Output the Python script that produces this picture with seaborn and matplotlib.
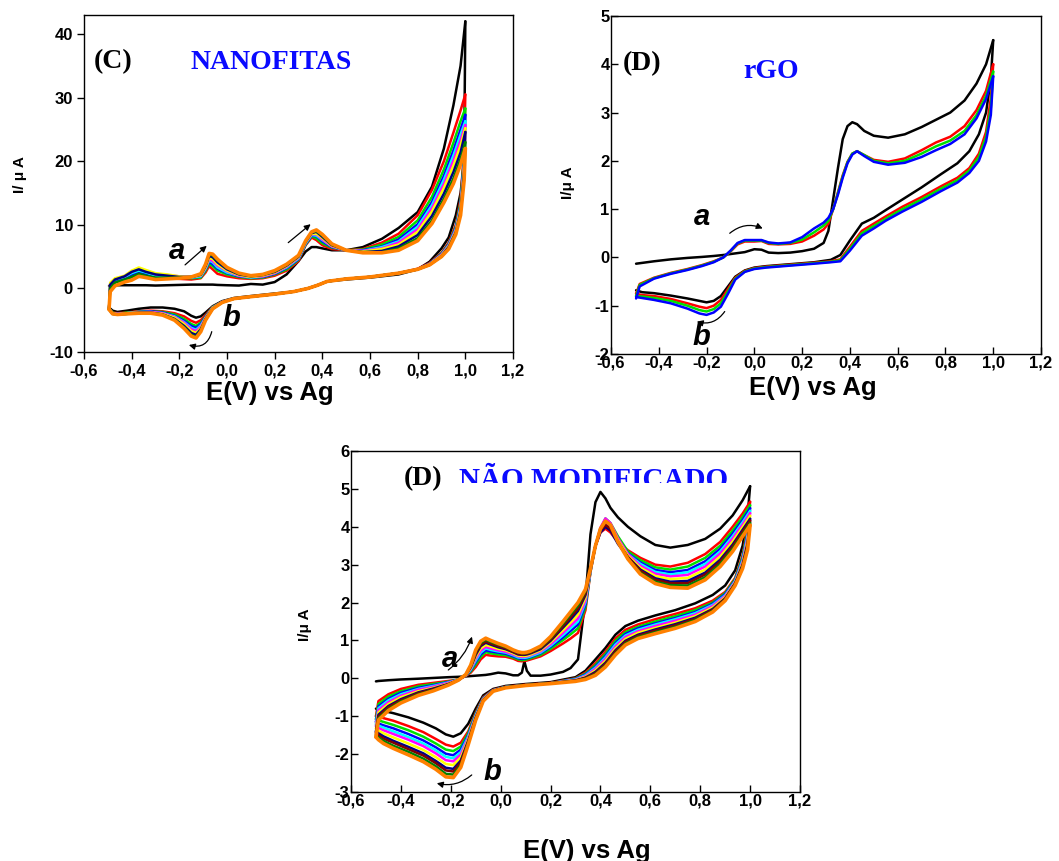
import matplotlib
matplotlib.use("Agg")
import matplotlib.pyplot as plt
import pandas as pd
import seaborn as sns

# ---------------- shared axis values ----------------
x_ticks = [-0.6, -0.4, -0.2, 0.0, 0.2, 0.4, 0.6, 0.8, 1.0, 1.2]
x_tick_labels = ["-0,6", "-0,4", "-0,2", "0,0", "0,2", "0,4", "0,6", "0,8", "1,0", "1,2"]
yticks_C = [-10, 0, 10, 20, 30, 40]
yticks_D = [-2, -1, 0, 1, 2, 3, 4, 5]
yticks_N = [-3, -2, -1, 0, 1, 2, 3, 4, 5, 6]

# ---------------- panel C : NANOFITAS ----------------
E_an_C = [-0.495, -0.49, -0.47, -0.43, -0.40, -0.37, -0.34, -0.30, -0.25, -0.20, -0.15, -0.11, -0.09, -0.075,
          -0.06, -0.04, 0.00, 0.05, 0.10, 0.15, 0.20, 0.25, 0.30, 0.33, 0.355, 0.375, 0.40, 0.44, 0.50, 0.57,
          0.65, 0.72, 0.80, 0.86, 0.91, 0.95, 0.98, 1.00]
E_ca_C = [1.00, 0.995, 0.98, 0.96, 0.93, 0.90, 0.85, 0.80, 0.72, 0.60, 0.50, 0.42, 0.38, 0.34, 0.28, 0.20, 0.10,
          0.03, -0.02, -0.06, -0.09, -0.11, -0.13, -0.15, -0.18, -0.22, -0.27, -0.32, -0.37, -0.42, -0.46, -0.48, -0.495]

C_black_an = [0.4, 0.45, 0.5, 0.5, 0.5, 0.5, 0.5, 0.45, 0.5, 0.55, 0.6, 0.6, 0.6, 0.6, 0.6, 0.55, 0.5, 0.45, 0.7, 0.6,
              1.0, 2.2, 4.3, 5.8, 6.5, 6.5, 6.3, 6.0, 6.0, 6.5, 7.8, 9.5, 12.0, 16.0, 22.0, 28.8, 35.0, 42.0]
C_red_an = [-3.2, 0.3, 1.0, 1.4, 1.8, 2.2, 1.9, 1.6, 1.6, 1.5, 1.4, 1.6, 2.5, 3.5, 3.0, 2.3, 1.9, 1.6, 1.5, 1.6,
            2.0, 2.8, 4.3, 6.8, 8.0, 7.6, 6.8, 6.2, 6.0, 6.2, 7.2, 8.6, 11.5, 15.5, 20.0, 24.5, 28.0, 30.5]
C_green_an = [-3.2, 0.5, 1.2, 1.6, 2.0, 2.4, 2.1, 1.8, 1.8, 1.7, 1.6, 1.7, 2.8, 3.9, 3.5, 2.8, 2.2, 1.8, 1.6, 1.7,
              2.2, 3.0, 4.5, 6.9, 8.2, 7.9, 7.1, 6.4, 6.0, 6.1, 6.9, 8.1, 10.7, 14.4, 18.7, 22.9, 26.3, 28.3]
C_blue_an = [-3.2, 0.6, 1.3, 1.7, 2.2, 2.6, 2.3, 1.9, 1.9, 1.8, 1.7, 1.85, 3.0, 4.2, 3.8, 3.1, 2.4, 1.9, 1.7, 1.8,
             2.3, 3.2, 4.6, 7.0, 8.3, 8.2, 7.4, 6.5, 6.0, 6.0, 6.6, 7.7, 10.1, 13.6, 17.7, 21.7, 25.0, 27.3]
C_cyan_an = [-3.2, 0.7, 1.4, 1.8, 2.4, 2.8, 2.5, 2.0, 2.0, 1.8, 1.7, 1.9, 3.1, 4.4, 4.1, 3.3, 2.5, 2.0, 1.7, 1.9,
             2.4, 3.3, 4.7, 7.1, 8.4, 8.3, 7.6, 6.6, 6.0, 5.9, 6.5, 7.4, 9.7, 13.1, 17.1, 20.9, 24.2, 26.3]
C_magenta_an = [-3.3, 0.8, 1.5, 1.9, 2.6, 3.1, 2.7, 2.2, 2.1, 1.9, 1.8, 2.0, 3.2, 4.6, 4.3, 3.6, 2.7, 2.0, 1.8, 1.9,
                2.4, 3.4, 4.8, 7.2, 8.5, 8.5, 7.7, 6.6, 6.0, 5.9, 6.3, 7.2, 9.3, 12.6, 16.4, 20.1, 23.3, 25.7]
C_yellow_an = [-3.3, 0.9, 1.6, 2.0, 2.8, 3.3, 2.9, 2.4, 2.2, 1.9, 1.8, 2.05, 3.3, 4.8, 4.6, 3.8, 2.8, 2.1, 1.8, 2.0,
               2.5, 3.5, 4.9, 7.25, 8.6, 8.6, 7.9, 6.7, 6.0, 5.8, 6.2, 6.9, 8.9, 12.1, 15.8, 19.3, 22.5, 25.2]
C_navy_an = [-3.3, 0.6, 1.4, 1.9, 2.6, 3.0, 2.6, 2.2, 2.0, 1.8, 1.8, 2.15, 3.5, 5.1, 4.9, 4.1, 3.0, 2.2, 1.9, 2.1,
             2.6, 3.6, 5.0, 7.35, 8.7, 8.9, 8.1, 6.8, 6.0, 5.7, 5.9, 6.6, 8.4, 11.4, 14.9, 18.3, 21.4, 24.6]
C_dkgreen_an = [-3.3, 0.0, 0.9, 1.4, 1.8, 2.3, 2.0, 1.7, 1.7, 1.7, 1.8, 2.2, 3.7, 5.3, 5.2, 4.4, 3.2, 2.3, 1.95, 2.15,
                2.7, 3.7, 5.1, 7.4, 8.8, 9.0, 8.3, 6.9, 6.0, 5.7, 5.7, 6.3, 7.9, 10.7, 14.1, 17.3, 20.4, 23.0]
C_orange_an = [-3.3, -0.5, 0.4, 1.0, 1.3, 1.9, 1.7, 1.4, 1.5, 1.6, 1.8, 2.3, 3.8, 5.5, 5.4, 4.6, 3.3, 2.4, 2.0, 2.2,
               2.8, 3.8, 5.2, 7.5, 8.9, 9.2, 8.5, 7.0, 6.0, 5.6, 5.6, 6.0, 7.5, 10.2, 13.5, 16.5, 19.5, 22.0]

C_black_ca = [42.0, 20.0, 15.0, 11.5, 8.0, 6.3, 4.2, 3.0, 2.2, 1.7, 1.4, 1.1, 0.5, 0.0, -0.5, -0.8, -1.2, -1.5, -2.0,
              -2.8, -3.8, -4.4, -4.6, -4.3, -3.6, -3.2, -3.0, -3.0, -3.2, -3.5, -3.7, -3.5, -3.0]
C_red_ca = [30.5, 22.0, 14.0, 10.0, 7.2, 5.6, 4.0, 3.1, 2.4, 1.8, 1.5, 1.1, 0.5, 0.0, -0.5, -0.9, -1.3, -1.6, -2.1,
            -2.9, -4.2, -5.0, -5.4, -5.1, -4.4, -3.9, -3.6, -3.5, -3.6, -3.8, -3.9, -3.8, -3.2]
C_green_ca = [28.3, 21.0, 13.5, 9.7, 7.0, 5.5, 3.9, 3.0, 2.4, 1.8, 1.5, 1.1, 0.5, 0.0, -0.5, -0.9, -1.3, -1.6, -2.1,
              -2.95, -4.4, -5.4, -5.9, -5.6, -4.8, -4.1, -3.7, -3.6, -3.7, -3.8, -4.0, -3.8, -3.2]
C_blue_ca = [27.3, 20.3, 13.1, 9.5, 6.9, 5.4, 3.9, 3.0, 2.4, 1.8, 1.5, 1.1, 0.5, 0.0, -0.5, -0.9, -1.3, -1.6, -2.1,
             -3.0, -4.5, -5.6, -6.2, -5.9, -5.1, -4.3, -3.8, -3.6, -3.7, -3.9, -4.0, -3.9, -3.2]
C_cyan_ca = [26.3, 19.7, 12.9, 9.3, 6.8, 5.3, 3.8, 3.0, 2.4, 1.8, 1.5, 1.1, 0.5, 0.0, -0.5, -0.9, -1.3, -1.6, -2.15,
             -3.0, -4.6, -5.8, -6.5, -6.2, -5.3, -4.4, -3.9, -3.7, -3.7, -3.9, -4.0, -3.9, -3.2]
C_magenta_ca = [25.7, 19.3, 12.6, 9.2, 6.7, 5.3, 3.8, 3.0, 2.4, 1.8, 1.5, 1.1, 0.5, 0.0, -0.5, -0.9, -1.3, -1.6, -2.15,
                -3.1, -4.6, -6.0, -6.7, -6.4, -5.4, -4.5, -3.9, -3.7, -3.8, -3.9, -4.0, -3.9, -3.3]
C_yellow_ca = [25.2, 19.0, 12.4, 9.0, 6.6, 5.2, 3.8, 3.0, 2.4, 1.8, 1.5, 1.1, 0.5, 0.0, -0.5, -0.9, -1.3, -1.6, -2.2,
               -3.1, -4.7, -6.2, -7.0, -6.7, -5.6, -4.6, -4.0, -3.8, -3.8, -3.9, -4.1, -3.9, -3.3]
C_navy_ca = [24.6, 18.5, 12.1, 8.8, 6.5, 5.1, 3.7, 3.0, 2.4, 1.8, 1.5, 1.1, 0.5, 0.0, -0.5, -0.9, -1.3, -1.6, -2.2,
             -3.15, -4.8, -6.4, -7.3, -7.0, -5.9, -4.8, -4.1, -3.8, -3.8, -4.0, -4.1, -4.0, -3.3]
C_dkgreen_ca = [23.0, 17.5, 11.8, 8.7, 6.3, 5.0, 3.7, 3.0, 2.4, 1.8, 1.5, 1.1, 0.5, 0.0, -0.5, -0.9, -1.3, -1.6, -2.2,
                -3.2, -4.9, -6.6, -7.6, -7.3, -6.1, -4.9, -4.1, -3.9, -3.9, -4.0, -4.1, -4.0, -3.3]
C_orange_ca = [22.0, 17.0, 11.5, 8.5, 6.2, 5.0, 3.7, 3.0, 2.4, 1.8, 1.5, 1.1, 0.5, 0.0, -0.5, -0.9, -1.3, -1.6, -2.2,
               -3.2, -5.0, -6.8, -7.8, -7.5, -6.3, -5.0, -4.2, -3.9, -3.9, -4.0, -4.1, -4.0, -3.3]

# ---------------- panel D : rGO ----------------
E_an_D = [-0.495, -0.48, -0.42, -0.35, -0.28, -0.22, -0.17, -0.13, -0.10, -0.07, -0.04, 0.00, 0.03, 0.06, 0.10,
          0.15, 0.20, 0.25, 0.29, 0.31, 0.33, 0.35, 0.37, 0.39, 0.41, 0.43, 0.46, 0.50, 0.56, 0.63, 0.70, 0.76,
          0.82, 0.88, 0.93, 0.97, 1.00]
E_ca_D = [1.00, 0.99, 0.97, 0.94, 0.90, 0.85, 0.78, 0.70, 0.62, 0.55, 0.50, 0.45, 0.40, 0.36, 0.32, 0.25, 0.15,
          0.05, 0.00, -0.04, -0.08, -0.11, -0.14, -0.17, -0.20, -0.23, -0.28, -0.35, -0.42, -0.47, -0.495]

D_black_an = [-0.13, -0.12, -0.08, -0.04, -0.01, 0.01, 0.03, 0.05, 0.07, 0.09, 0.11, 0.17, 0.16, 0.10, 0.09, 0.10,
              0.13, 0.18, 0.30, 0.55, 1.2, 1.85, 2.45, 2.72, 2.8, 2.76, 2.62, 2.52, 2.48, 2.55, 2.7, 2.85, 3.0,
              3.25, 3.6, 4.0, 4.5]
D_red_an = [-0.75, -0.55, -0.42, -0.32, -0.24, -0.16, -0.08, 0.0, 0.12, 0.27, 0.33, 0.33, 0.34, 0.28, 0.27, 0.28,
            0.33, 0.45, 0.58, 0.7, 1.0, 1.35, 1.7, 1.98, 2.15, 2.2, 2.12, 2.02, 1.98, 2.05, 2.22, 2.38, 2.5, 2.72,
            3.05, 3.45, 4.0]
D_green_an = [-0.8, -0.57, -0.43, -0.33, -0.25, -0.17, -0.09, 0.0, 0.13, 0.29, 0.35, 0.35, 0.35, 0.3, 0.28, 0.3,
              0.37, 0.52, 0.66, 0.76, 1.0, 1.33, 1.68, 1.97, 2.15, 2.2, 2.12, 2.0, 1.95, 2.0, 2.15, 2.3, 2.42, 2.62,
              2.95, 3.35, 3.85]
D_blue_an = [-0.85, -0.6, -0.44, -0.34, -0.26, -0.18, -0.1, 0.0, 0.14, 0.3, 0.36, 0.36, 0.36, 0.31, 0.29, 0.31,
             0.42, 0.6, 0.72, 0.82, 1.0, 1.3, 1.65, 1.95, 2.13, 2.2, 2.1, 1.98, 1.92, 1.96, 2.08, 2.22, 2.35, 2.55,
             2.88, 3.28, 3.75]

D_black_ca = [4.5, 3.7, 3.0, 2.55, 2.2, 1.95, 1.72, 1.45, 1.2, 0.98, 0.82, 0.7, 0.35, 0.05, -0.05, -0.1, -0.14,
              -0.18, -0.21, -0.27, -0.4, -0.6, -0.8, -0.9, -0.93, -0.9, -0.85, -0.79, -0.74, -0.72, -0.68]
D_red_ca = [4.0, 3.3, 2.6, 2.15, 1.85, 1.65, 1.47, 1.25, 1.05, 0.85, 0.7, 0.55, 0.22, -0.04, -0.08, -0.11, -0.15,
            -0.19, -0.22, -0.28, -0.42, -0.65, -0.88, -1.0, -1.05, -1.02, -0.95, -0.86, -0.8, -0.78, -0.75]
D_green_ca = [3.85, 3.1, 2.5, 2.08, 1.8, 1.6, 1.42, 1.2, 1.0, 0.8, 0.65, 0.5, 0.18, -0.06, -0.09, -0.12, -0.16,
              -0.2, -0.23, -0.29, -0.44, -0.7, -0.95, -1.07, -1.12, -1.09, -1.0, -0.9, -0.84, -0.81, -0.8]
D_blue_ca = [3.75, 2.95, 2.4, 2.0, 1.75, 1.55, 1.37, 1.15, 0.95, 0.76, 0.6, 0.45, 0.14, -0.08, -0.1, -0.13, -0.17,
             -0.21, -0.24, -0.3, -0.46, -0.75, -1.02, -1.14, -1.19, -1.16, -1.06, -0.95, -0.88, -0.84, -0.82]

# ---------------- panel N : NÃO MODIFICADO ----------------
E_an_N = [-0.50, -0.49, -0.45, -0.40, -0.33, -0.27, -0.21, -0.17, -0.14, -0.12, -0.10, -0.08, -0.06, -0.04, -0.01,
          0.02, 0.05, 0.07, 0.085, 0.095, 0.105, 0.12, 0.16, 0.20, 0.25, 0.28, 0.31, 0.34, 0.36, 0.38, 0.40, 0.42,
          0.44, 0.47, 0.51, 0.56, 0.62, 0.68, 0.75, 0.82, 0.88, 0.93, 0.97, 1.00]
E_ca_N = [1.00, 0.99, 0.97, 0.94, 0.90, 0.85, 0.78, 0.70, 0.62, 0.55, 0.50, 0.46, 0.42, 0.38, 0.34, 0.30, 0.20,
          0.10, 0.02, -0.03, -0.07, -0.10, -0.13, -0.16, -0.19, -0.22, -0.26, -0.31, -0.37, -0.43, -0.47, -0.49, -0.50]

N_black_an = [-0.08, -0.07, -0.05, -0.03, -0.01, 0.01, 0.03, 0.04, 0.05, 0.06, 0.07, 0.08, 0.09, 0.11, 0.15, 0.13,
              0.08, 0.08, 0.15, 0.45, 0.2, 0.07, 0.07, 0.1, 0.17, 0.27, 0.5, 2.1, 3.8, 4.65, 4.92, 4.75, 4.5, 4.25,
              4.0, 3.75, 3.52, 3.45, 3.52, 3.68, 3.95, 4.3, 4.7, 5.07]
N_red_an = [-1.0, -0.6, -0.42, -0.28, -0.17, -0.12, -0.07, -0.03, 0.06, 0.15, 0.3, 0.5, 0.62, 0.6, 0.58, 0.57, 0.52,
            0.46, 0.45, 0.46, 0.47, 0.5, 0.58, 0.72, 0.92, 1.05, 1.2, 1.8, 2.8, 3.5, 3.85, 3.95, 3.85, 3.6, 3.38, 3.18,
            3.0, 2.95, 3.05, 3.28, 3.6, 4.0, 4.35, 4.66]
N_green_an = [-1.08, -0.68, -0.48, -0.34, -0.21, -0.15, -0.09, -0.03, 0.07, 0.18, 0.37, 0.57, 0.69, 0.66, 0.63, 0.61,
              0.55, 0.5, 0.48, 0.49, 0.5, 0.53, 0.62, 0.78, 1.01, 1.16, 1.32, 1.88, 2.82, 3.5, 3.95, 4.22, 4.1, 3.75,
              3.35, 3.12, 2.93, 2.87, 2.95, 3.18, 3.5, 3.9, 4.26, 4.57]
N_blue_an = [-1.15, -0.74, -0.54, -0.38, -0.25, -0.18, -0.1, -0.04, 0.07, 0.21, 0.43, 0.63, 0.74, 0.71, 0.68, 0.65,
             0.58, 0.53, 0.51, 0.52, 0.53, 0.56, 0.66, 0.83, 1.08, 1.25, 1.42, 1.95, 2.83, 3.5, 3.9, 4.1, 4.0, 3.65,
             3.3, 3.06, 2.86, 2.8, 2.86, 3.09, 3.42, 3.82, 4.18, 4.49]
N_cyan_an = [-1.21, -0.79, -0.58, -0.42, -0.28, -0.2, -0.11, -0.04, 0.08, 0.23, 0.47, 0.68, 0.79, 0.75, 0.71, 0.68,
             0.61, 0.55, 0.54, 0.54, 0.55, 0.58, 0.68, 0.86, 1.14, 1.32, 1.5, 2.01, 2.84, 3.5, 3.95, 4.15, 4.05, 3.65,
             3.28, 3.02, 2.81, 2.74, 2.8, 3.02, 3.35, 3.75, 4.12, 4.42]
N_magenta_an = [-1.26, -0.84, -0.63, -0.46, -0.3, -0.22, -0.12, -0.04, 0.08, 0.25, 0.52, 0.73, 0.83, 0.79, 0.74, 0.7,
                0.63, 0.58, 0.56, 0.57, 0.58, 0.61, 0.71, 0.9, 1.2, 1.39, 1.58, 2.06, 2.85, 3.5, 3.98, 4.22, 4.1, 3.7,
                3.28, 2.97, 2.76, 2.69, 2.73, 2.95, 3.29, 3.69, 4.06, 4.36]
N_yellow_an = [-1.33, -0.9, -0.68, -0.5, -0.34, -0.25, -0.14, -0.04, 0.08, 0.27, 0.57, 0.79, 0.88, 0.84, 0.78, 0.74,
               0.66, 0.6, 0.59, 0.59, 0.6, 0.63, 0.74, 0.95, 1.27, 1.47, 1.68, 2.13, 2.86, 3.5, 3.95, 4.15, 4.05, 3.65,
               3.24, 2.92, 2.7, 2.62, 2.65, 2.87, 3.21, 3.61, 3.99, 4.29]
N_navy_an = [-1.4, -0.96, -0.73, -0.55, -0.37, -0.27, -0.15, -0.05, 0.09, 0.29, 0.62, 0.85, 0.94, 0.89, 0.82, 0.77,
             0.69, 0.63, 0.62, 0.62, 0.63, 0.66, 0.77, 0.99, 1.34, 1.55, 1.78, 2.2, 2.87, 3.5, 3.85, 4.0, 3.9, 3.55,
             3.2, 2.87, 2.64, 2.55, 2.57, 2.79, 3.13, 3.53, 3.92, 4.21]
N_darkred_an = [-1.44, -1.0, -0.76, -0.58, -0.39, -0.29, -0.16, -0.05, 0.09, 0.31, 0.66, 0.88, 0.97, 0.92, 0.85, 0.79,
                0.7, 0.65, 0.63, 0.64, 0.65, 0.68, 0.8, 1.02, 1.38, 1.61, 1.84, 2.24, 2.88, 3.5, 3.9, 4.05, 3.95, 3.6,
                3.2, 2.84, 2.6, 2.51, 2.51, 2.74, 3.08, 3.48, 3.87, 4.16]
N_dkgreen_an = [-1.5, -1.05, -0.81, -0.61, -0.42, -0.31, -0.17, -0.05, 0.1, 0.33, 0.7, 0.93, 1.02, 0.96, 0.89, 0.82,
                0.73, 0.68, 0.66, 0.66, 0.67, 0.7, 0.82, 1.06, 1.44, 1.68, 1.92, 2.3, 2.89, 3.5, 3.95, 4.15, 4.05, 3.6,
                3.17, 2.79, 2.55, 2.46, 2.45, 2.67, 3.02, 3.42, 3.81, 4.1]
N_orange_an = [-1.55, -1.1, -0.85, -0.65, -0.45, -0.33, -0.18, -0.05, 0.1, 0.35, 0.75, 0.98, 1.06, 1.0, 0.92, 0.85,
               0.75, 0.7, 0.68, 0.68, 0.69, 0.72, 0.85, 1.1, 1.5, 1.75, 2.0, 2.35, 2.9, 3.5, 3.95, 4.15, 4.05, 3.6,
               3.15, 2.75, 2.5, 2.4, 2.38, 2.6, 2.95, 3.35, 3.75, 4.04]

N_black_ca = [5.07, 4.3, 3.5, 2.85, 2.45, 2.2, 1.98, 1.8, 1.66, 1.52, 1.38, 1.15, 0.8, 0.5, 0.2, 0.03, -0.1, -0.15,
              -0.2, -0.28, -0.45, -0.8, -1.2, -1.45, -1.54, -1.48, -1.32, -1.17, -1.03, -0.92, -0.86, -0.84, -0.8]
N_red_ca = [4.66, 4.0, 3.25, 2.65, 2.28, 2.05, 1.85, 1.7, 1.56, 1.42, 1.28, 1.05, 0.7, 0.4, 0.15, 0.0, -0.12, -0.17,
            -0.22, -0.3, -0.5, -0.9, -1.4, -1.7, -1.8, -1.75, -1.6, -1.42, -1.26, -1.12, -1.05, -1.02, -1.0]
N_green_ca = [4.57, 3.91, 3.2, 2.62, 2.25, 2.0, 1.8, 1.64, 1.5, 1.36, 1.22, 0.99, 0.64, 0.35, 0.12, -0.01, -0.13,
              -0.18, -0.23, -0.31, -0.52, -0.93, -1.45, -1.8, -1.92, -1.88, -1.72, -1.54, -1.37, -1.23, -1.15, -1.11,
              -1.08]
N_blue_ca = [4.49, 3.83, 3.15, 2.59, 2.22, 1.97, 1.75, 1.59, 1.45, 1.32, 1.17, 0.93, 0.59, 0.31, 0.1, -0.02, -0.13,
             -0.18, -0.23, -0.31, -0.53, -0.96, -1.5, -1.88, -2.03, -1.99, -1.82, -1.64, -1.47, -1.32, -1.24, -1.19,
             -1.15]
N_cyan_ca = [4.42, 3.77, 3.12, 2.57, 2.19, 1.94, 1.72, 1.56, 1.42, 1.28, 1.13, 0.89, 0.55, 0.28, 0.08, -0.03, -0.13,
             -0.18, -0.23, -0.32, -0.54, -0.98, -1.53, -1.95, -2.11, -2.07, -1.9, -1.72, -1.55, -1.4, -1.3, -1.25, -1.21]
N_magenta_ca = [4.36, 3.71, 3.08, 2.55, 2.17, 1.91, 1.68, 1.52, 1.38, 1.24, 1.09, 0.84, 0.51, 0.25, 0.06, -0.04,
                -0.13, -0.18, -0.24, -0.32, -0.55, -1.0, -1.57, -2.01, -2.19, -2.16, -1.98, -1.79, -1.62, -1.47, -1.37,
                -1.31, -1.26]
N_yellow_ca = [4.29, 3.64, 3.04, 2.53, 2.14, 1.87, 1.64, 1.47, 1.33, 1.2, 1.04, 0.79, 0.46, 0.21, 0.04, -0.05, -0.13,
               -0.18, -0.24, -0.32, -0.56, -1.02, -1.61, -2.09, -2.29, -2.26, -2.08, -1.89, -1.72, -1.56, -1.45, -1.38,
               -1.33]
N_navy_ca = [4.21, 3.57, 3.0, 2.51, 2.11, 1.83, 1.6, 1.43, 1.29, 1.15, 0.99, 0.74, 0.41, 0.17, 0.02, -0.06, -0.13,
             -0.18, -0.24, -0.33, -0.57, -1.04, -1.65, -2.17, -2.39, -2.36, -2.18, -1.98, -1.81, -1.65, -1.53, -1.45,
             -1.4]
N_darkred_ca = [4.16, 3.52, 2.97, 2.49, 2.1, 1.81, 1.57, 1.4, 1.26, 1.12, 0.96, 0.71, 0.38, 0.14, 0.01, -0.06, -0.13,
                -0.18, -0.24, -0.33, -0.58, -1.06, -1.68, -2.22, -2.46, -2.43, -2.24, -2.04, -1.87, -1.7, -1.59, -1.5,
                -1.44]
N_dkgreen_ca = [4.1, 3.46, 2.94, 2.47, 2.07, 1.78, 1.54, 1.36, 1.22, 1.09, 0.92, 0.66, 0.34, 0.11, -0.01, -0.07,
                -0.13, -0.18, -0.24, -0.34, -0.59, -1.08, -1.72, -2.29, -2.54, -2.52, -2.32, -2.12, -1.94, -1.78, -1.65,
                -1.56, -1.5]
N_orange_ca = [4.04, 3.4, 2.9, 2.45, 2.05, 1.75, 1.5, 1.32, 1.18, 1.05, 0.88, 0.62, 0.3, 0.08, -0.03, -0.08, -0.14,
               -0.19, -0.25, -0.34, -0.6, -1.1, -1.75, -2.35, -2.62, -2.6, -2.4, -2.2, -2.02, -1.85, -1.72, -1.62, -1.55]

# ---------------- colours ----------------
BLACK, RED, GREEN, BLUE = "#000000", "#ff0000", "#00e000", "#0000ff"
CYAN, MAGENTA, YELLOW, NAVY = "#00ffff", "#ff00ff", "#ffff00", "#000080"
DARKRED, DKGREEN, ORANGE = "#800000", "#008000", "#ff8000"
TITLE_BLUE = "#0a0aff"

curves_C = [(C_black_an, C_black_ca, BLACK), (C_red_an, C_red_ca, RED), (C_green_an, C_green_ca, GREEN),
            (C_blue_an, C_blue_ca, BLUE), (C_cyan_an, C_cyan_ca, CYAN), (C_magenta_an, C_magenta_ca, MAGENTA),
            (C_yellow_an, C_yellow_ca, YELLOW), (C_navy_an, C_navy_ca, NAVY), (C_dkgreen_an, C_dkgreen_ca, DKGREEN),
            (C_orange_an, C_orange_ca, ORANGE)]
curves_D = [(D_black_an, D_black_ca, BLACK), (D_red_an, D_red_ca, RED), (D_green_an, D_green_ca, GREEN),
            (D_blue_an, D_blue_ca, BLUE)]
curves_N = [(N_black_an, N_black_ca, BLACK), (N_red_an, N_red_ca, RED), (N_green_an, N_green_ca, GREEN),
            (N_blue_an, N_blue_ca, BLUE), (N_cyan_an, N_cyan_ca, CYAN), (N_magenta_an, N_magenta_ca, MAGENTA),
            (N_yellow_an, N_yellow_ca, YELLOW), (N_navy_an, N_navy_ca, NAVY), (N_darkred_an, N_darkred_ca, DARKRED),
            (N_dkgreen_an, N_dkgreen_ca, DKGREEN), (N_orange_an, N_orange_ca, ORANGE)]

# ---------------- style ----------------
sns.set_style("ticks")
plt.rcParams["font.family"] = ["Liberation Sans", "DejaVu Sans"]
plt.rcParams["text.color"] = "black"
plt.rcParams["axes.labelcolor"] = "black"
plt.rcParams["xtick.color"] = "black"
plt.rcParams["ytick.color"] = "black"
SERIF = ["Liberation Serif", "DejaVu Serif"]

W, H = 1059, 861
fig = plt.figure(figsize=(W / 100, H / 100), dpi=100)


def px_axes(left, top, right, bottom):
    return fig.add_axes([left / W, 1 - bottom / H, (right - left) / W, (bottom - top) / H])


def draw_curves(ax, E_an, E_ca, curves):
    for an, ca, col in curves:
        lw = 2.6 if col == ORANGE else 1.8
        for E, I in ((E_an, an), (E_ca, ca)):
            df = pd.DataFrame({"E": E, "I": I})
            sns.lineplot(data=df, x="E", y="I", sort=False, estimator=None, color=col, lw=lw, ax=ax,
                         solid_joinstyle="round", solid_capstyle="round")


def style_axes(ax, yticks, ylim, direction, pad):
    ax.set_xlim(-0.6, 1.2)
    ax.set_ylim(*ylim)
    ax.set_xticks(x_ticks)
    ax.set_xticklabels(x_tick_labels)
    ax.set_yticks(yticks)
    ax.set_yticklabels([str(v) for v in yticks])
    ax.set_xlabel("")
    ax.set_ylabel("")
    for s in ax.spines.values():
        s.set_color("black")
        s.set_linewidth(1.0)
    ax.tick_params(direction=direction, length=5, width=1, pad=pad, labelsize=12, colors="black")
    for lab in ax.get_xticklabels() + ax.get_yticklabels():
        lab.set_fontweight("bold")


def arrow(ax, start, end, rad=0.0):
    ax.annotate("", xy=end, xytext=start,
                arrowprops=dict(arrowstyle="-|>", color="black", lw=0.9, mutation_scale=9,
                                shrinkA=0, shrinkB=0, connectionstyle=f"arc3,rad={rad}"))


def letter(ax, x, y, s):
    ax.text(x, y, s, fontsize=21, fontweight="bold", fontstyle="italic", ha="center", va="center")


XL = dict(fontsize=18.5, fontweight="bold", ha="center", va="center")
YL = dict(fontsize=11, fontweight="bold", rotation=90, ha="center", va="center")

# ---------- Panel C ----------
axC = px_axes(84, 15, 513, 352)
draw_curves(axC, E_an_C, E_ca_C, curves_C)
style_axes(axC, yticks_C, (-10, 43), "out", 3)
axC.text(-0.478, 35.6, "(C)", family=SERIF, fontsize=20, fontweight="bold", ha="center", va="center")
axC.text(0.185, 35.6, "NANOFITAS", family=SERIF, fontsize=20, fontweight="bold", color=TITLE_BLUE,
         ha="center", va="center")
letter(axC, -0.211, 5.9, "a")
letter(axC, 0.02, -4.7, "b")
arrow(axC, (-0.176, 3.7), (-0.085, 6.7))
arrow(axC, (0.257, 7.2), (0.351, 10.1))
arrow(axC, (-0.064, -6.8), (-0.16, -8.9), rad=-0.5)
fig.text(270 / W, 1 - 393 / H, "E(V) vs Ag", **XL)
fig.text(20 / W, 1 - 175 / H, "I/ μ A", **YL)

# ---------- Panel D (rGO) ----------
axD = px_axes(611, 16, 1041, 354)
draw_curves(axD, E_an_D, E_ca_D, curves_D)
style_axes(axD, yticks_D, (-2, 5), "in", 1)
axD.text(-0.469, 4.02, "(D)", family=SERIF, fontsize=20, fontweight="bold", ha="center", va="center")
axD.text(0.069, 3.85, "rGO", family=SERIF, fontsize=20, fontweight="bold", color=TITLE_BLUE,
         ha="center", va="center")
letter(axD, -0.22, 0.84, "a")
letter(axD, -0.22, -1.64, "b")
arrow(axD, (-0.103, 0.5), (0.035, 0.6), rad=-0.3)
arrow(axD, (-0.124, -1.12), (-0.241, -1.33), rad=-0.35)
fig.text(813 / W, 1 - 388 / H, "E(V) vs Ag", **XL)
fig.text(568 / W, 1 - 183 / H, "I/μ A", **YL)

# ---------- Panel N (NÃO MODIFICADO) ----------
axN = px_axes(351, 451, 800, 792)
draw_curves(axN, E_an_N, E_ca_N, curves_N)
style_axes(axN, yticks_N, (-3, 6), "in", 1)
axN.text(-0.31, 5.28, "(D)", family=SERIF, fontsize=20, fontweight="bold", ha="center", va="center")
axN.text(0.374, 5.22, "NÃO MODIFICADO", family=SERIF, fontsize=21, fontweight="bold", color=TITLE_BLUE,
         ha="center", va="center", zorder=1)
axN.add_patch(plt.Rectangle((-0.17, 4.6), 1.12, 0.55, facecolor="white", edgecolor="none", zorder=1.5))
letter(axN, -0.203, 0.5, "a")
letter(axN, -0.034, -2.46, "b")
arrow(axN, (-0.21, 0.22), (-0.115, 1.1), rad=0.15)
arrow(axN, (-0.116, -2.55), (-0.256, -2.77), rad=-0.25)
fig.text(587 / W, 1 - 851 / H, "E(V) vs Ag", **XL)
fig.text(305 / W, 1 - 625 / H, "I/μ A", **YL)

fig.savefig("out.png", dpi=100, facecolor="white")
